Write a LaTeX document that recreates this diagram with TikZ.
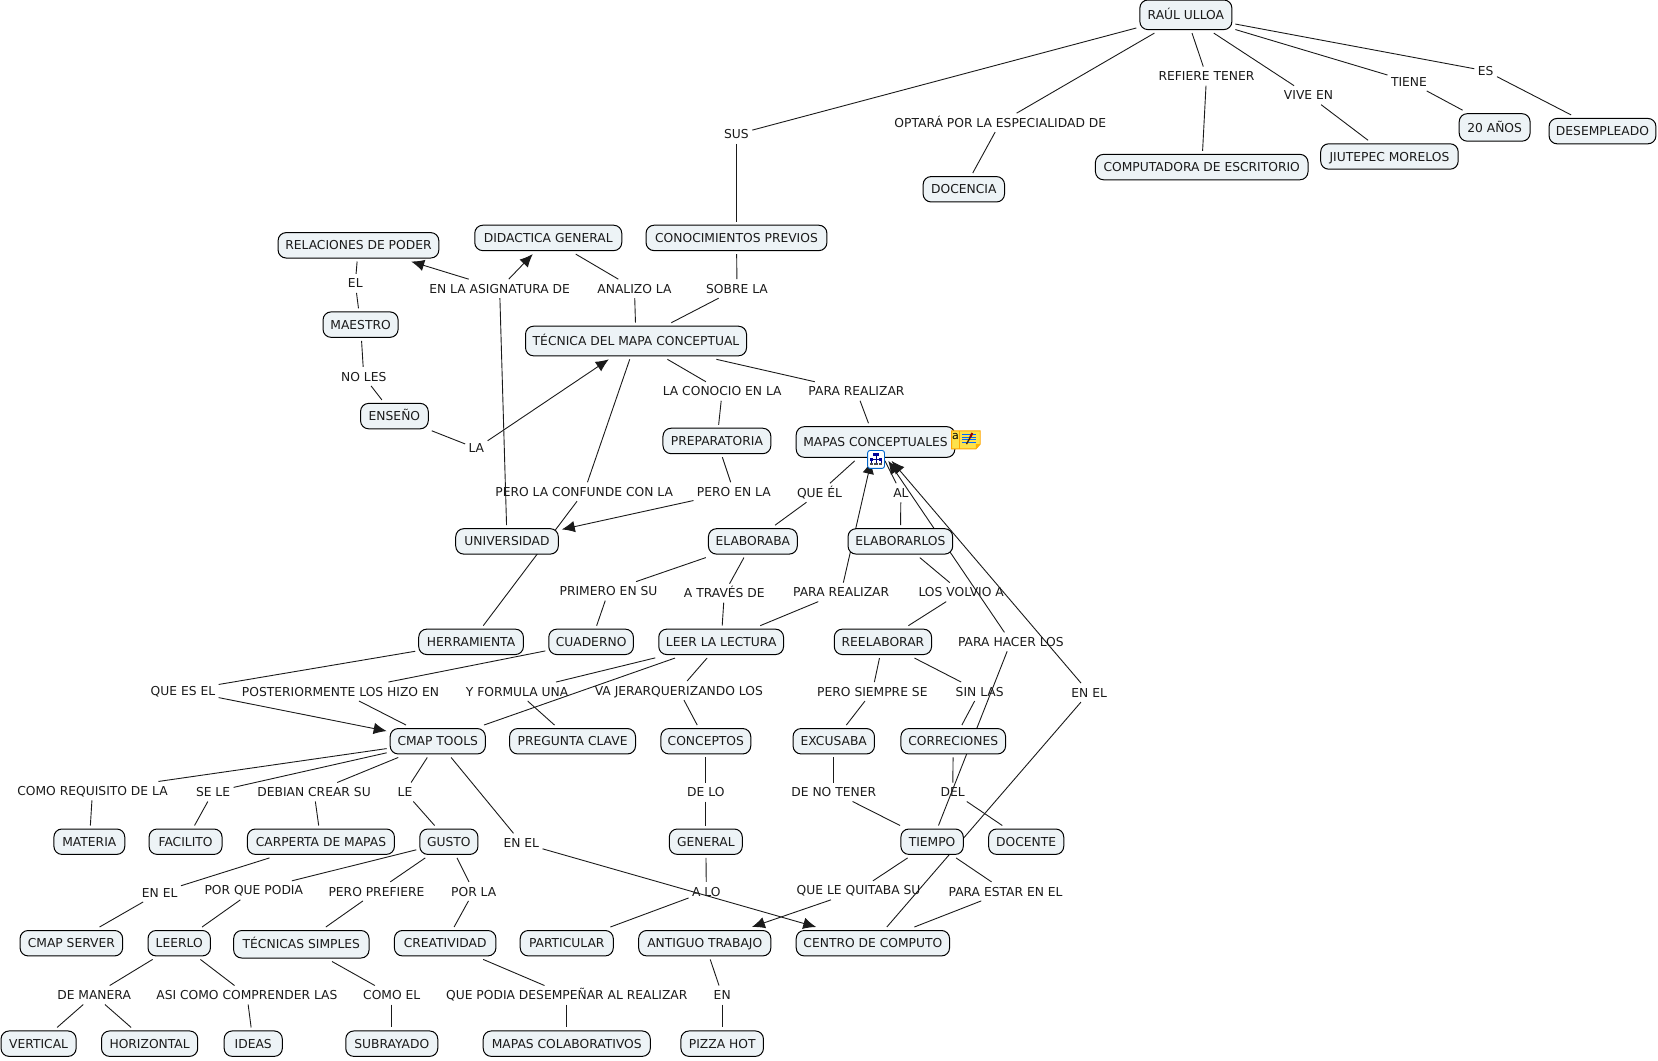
\documentclass[tikz,border=0pt]{standalone}
\usepackage{fontspec}
\setmainfont{DejaVu Sans}
\usetikzlibrary{arrows.meta,backgrounds}
\definecolor{boxfill}{HTML}{EDF3F6}
\definecolor{inkc}{HTML}{1A1A1A}
\tikzset{
 concept/.style={draw=black,line width=1pt,fill=boxfill,rounded corners=8pt,text=inkc,font=\fontsize{12.3}{14}\selectfont,inner sep=0pt,minimum height=25.4pt,outer sep=3.5pt,text height=9.2pt,text depth=0pt},
 w/.style={minimum width=#1*1.0574pt},
 h/.style={minimum height=#1*1.0574pt},
 lab/.style={text=inkc,font=\fontsize{12.3}{14}\selectfont,inner xsep=1.5pt,inner ysep=0pt,minimum height=15pt,outer sep=2pt,text height=9.2pt,text depth=0pt},
 link/.style={draw=inkc,line width=0.9pt},
 arr/.style={link,-{Latex[length=13pt,width=11.5pt]}}
}
\begin{document}
\begin{tikzpicture}[x=1.0574pt,y=-1.0574pt]
\useasboundingbox (0,0) rectangle (1568,1002.5);
% concepts
\node[concept,w=87,h=28] (raul) at (1121.5,14) {RAÚL ULLOA};
\node[concept,w=77] (docencia) at (911.5,179) {DOCENCIA};
\node[concept,w=201] (compu) at (1136.5,158) {COMPUTADORA DE ESCRITORIO};
\node[concept,w=130] (jiutepec) at (1314,148) {JIUTEPEC MORELOS};
\node[concept,w=67,h=26] (anios) at (1413.5,120.5) {20 AÑOS};
\node[concept,w=101] (desem) at (1515.5,124) {DESEMPLEADO};
\node[concept,w=152] (relac) at (339,232) {RELACIONES DE PODER};
\node[concept,w=139] (didac) at (518.5,225) {DIDACTICA GENERAL};
\node[concept,w=171] (conoc) at (696.5,225) {CONOCIMIENTOS PREVIOS};
\node[concept,w=71] (maestro) at (341,307) {MAESTRO};
\node[concept,w=209,h=28] (tecnica) at (601.5,322.5) {TÉCNICA DEL MAPA CONCEPTUAL};
\node[concept,w=64] (enseno) at (373,393.5) {ENSEÑO};
\node[concept,w=102] (prepa) at (678,417) {PREPARATORIA};
\node[concept,w=150,h=29] (mapas) at (828,418) {MAPAS CONCEPTUALES};
\node[concept,w=97] (univ) at (479.5,512) {UNIVERSIDAD};
\node[concept,w=84] (elaboraba) at (712,512) {ELABORABA};
\node[concept,w=99] (elaborarlos) at (851.5,512) {ELABORARLOS};
\node[concept,w=99] (herr) at (445.5,607) {HERRAMIENTA};
\node[concept,w=80] (cuaderno) at (559,607) {CUADERNO};
\node[concept,w=118] (leer) at (682,607) {LEER LA LECTURA};
\node[concept,w=92] (reela) at (835,607) {REELABORAR};
\node[concept,w=90] (cmap) at (414,701) {CMAP TOOLS};
\node[concept,w=119] (pregunta) at (541.5,701) {PREGUNTA CLAVE};
\node[concept,w=85] (concep) at (667.5,701) {CONCEPTOS};
\node[concept,w=77] (excusaba) at (788.5,701) {EXCUSABA};
\node[concept,w=99] (correc) at (901.5,701) {CORRECIONES};
\node[concept,w=67] (materia) at (84.5,796) {MATERIA};
\node[concept,w=69] (facilito) at (175.5,796) {FACILITO};
\node[concept,w=139] (carpeta) at (303.5,796) {CARPERTA DE MAPAS};
\node[concept,w=55] (gusto) at (424.5,796) {GUSTO};
\node[concept,w=69] (general) at (667.5,796) {GENERAL};
\node[concept,w=59] (tiempo) at (881.5,796) {TIEMPO};
\node[concept,w=71] (docente) at (970.5,796) {DOCENTE};
\node[concept,w=97] (server) at (67.5,892) {CMAP SERVER};
\node[concept,w=59] (leerlo) at (169.5,892) {LEERLO};
\node[concept,w=128,h=26] (tsimples) at (285,893) {TÉCNICAS SIMPLES};
\node[concept,w=96] (creat) at (421,892) {CREATIVIDAD};
\node[concept,w=88] (partic) at (536,892) {PARTICULAR};
\node[concept,w=125] (antiguo) at (666.5,892) {ANTIGUO TRABAJO};
\node[concept,w=145] (centro) at (825.5,892) {CENTRO DE COMPUTO};
\node[concept,w=71] (vertical) at (36.5,987) {VERTICAL};
\node[concept,w=91] (horiz) at (141.5,987) {HORIZONTAL};
\node[concept,w=55] (ideas) at (239.5,987) {IDEAS};
\node[concept,w=87] (subr) at (370.5,987) {SUBRAYADO};
\node[concept,w=158] (colab) at (536,987) {MAPAS COLABORATIVOS};
\node[concept,w=78] (pizza) at (683,987) {PIZZA HOT};
% labels
\node[lab] (lsus) at (696.5,127) {SUS};
\node[lab] (lopt) at (946,116) {OPTARÁ POR LA ESPECIALIDAD DE};
\node[lab] (lref) at (1141,72) {REFIERE TENER};
\node[lab] (lvive) at (1237.5,90) {VIVE EN};
\node[lab] (ltiene) at (1332.5,77) {TIENE};
\node[lab] (les) at (1405,67) {ES};
\node[lab] (lasig) at (472.5,273) {EN LA ASIGNATURA DE};
\node[lab] (lanal) at (600,273) {ANALIZO LA};
\node[lab] (lsobre) at (697,273) {SOBRE LA};
\node[lab] (lel) at (336,268) {EL};
\node[lab] (lnoles) at (344,356) {NO LES};
\node[lab] (lconocio) at (683,370) {LA CONOCIO EN LA};
\node[lab] (lpara) at (810,370) {PARA REALIZAR};
\node[lab] (lla) at (450.5,424) {LA};
\node[lab] (lconf) at (552.5,465) {PERO LA CONFUNDE CON LA};
\node[lab] (lperoen) at (694,465) {PERO EN LA};
\node[lab] (lqueel) at (775,466) {QUE ÉL};
\node[lab] (lal) at (852,466) {AL};
\node[lab] (lprim) at (575.5,559) {PRIMERO EN SU};
\node[lab] (latrav) at (685,561) {A TRAVÉS DE};
\node[lab] (lpara2) at (795.5,560) {PARA REALIZAR};
\node[lab] (lvolv) at (909,560) {LOS VOLVIO A};
\node[lab] (lhacer) at (956,607) {PARA HACER LOS};
\node[lab] (lquees) at (173,653) {QUE ES EL};
\node[lab] (lposter) at (322,654) {POSTERIORMENTE LOS HIZO EN};
\node[lab] (lformula) at (489,654) {Y FORMULA UNA};
\node[lab] (ljerar) at (642,653) {VA JERARQUERIZANDO LOS};
\node[lab] (lsiempre) at (825,654) {PERO SIEMPRE SE};
\node[lab] (lsin) at (926.5,654) {SIN LAS};
\node[lab] (lenel) at (1030,655) {EN EL};
\node[lab] (lreq) at (87.5,748) {COMO REQUISITO DE LA};
\node[lab] (lsele) at (201.5,749) {SE LE};
\node[lab] (ldebian) at (297,749) {DEBIAN CREAR SU};
\node[lab] (lle) at (383,749) {LE};
\node[lab] (lenel2) at (493,797) {EN EL};
\node[lab] (ldelo) at (667.5,749) {DE LO};
\node[lab] (ldeno) at (788.5,749) {DE NO TENER};
\node[lab] (ldel) at (901,749) {DEL};
\node[lab] (lenel3) at (151,844) {EN EL};
\node[lab] (lporque) at (240,842) {POR QUE PODIA};
\node[lab] (lprefiere) at (356,843) {PERO PREFIERE};
\node[lab] (lporla) at (448,843) {POR LA};
\node[lab] (lalo) at (668,843) {A LO};
\node[lab] (lquitaba) at (812,842) {QUE LE QUITABA SU};
\node[lab] (lestar) at (951,843) {PARA ESTAR EN EL};
\node[lab] (lmanera) at (89,941) {DE MANERA};
\node[lab] (lasi) at (233.5,941) {ASI COMO COMPRENDER LAS};
\node[lab] (lcomo) at (370.5,941) {COMO EL};
\node[lab] (ldesem) at (536,941) {QUE PODIA DESEMPEÑAR AL REALIZAR};
\node[lab] (len) at (683,941) {EN};
% connectors
\begin{pgfonlayer}{background}
\draw[link] (raul)--(lsus); \draw[link] (lsus)--(conoc);
\draw[link] (raul)--(lopt); \draw[link] (lopt)--(docencia);
\draw[link] (raul)--(lref); \draw[link] (lref)--(compu);
\draw[link] (raul)--(lvive); \draw[link] (lvive)--(jiutepec);
\draw[link] (raul)--(ltiene); \draw[link] (ltiene)--(anios);
\draw[link] (raul)--(les); \draw[link] (les)--(desem);
\draw[link] (conoc)--(lsobre); \draw[link] (lsobre)--(tecnica);
\draw[link] (didac)--(lanal); \draw[link] (lanal)--(tecnica);
\draw[link] (relac)--(lel); \draw[link] (lel)--(maestro);
\draw[link] (maestro)--(lnoles); \draw[link] (lnoles)--(enseno);
\draw[link] (enseno)--(lla); \draw[arr] (lla)--(tecnica);
\draw[link] (univ)--(lasig); \draw[arr] (lasig)--(relac); \draw[arr] (lasig)--(didac);
\draw[link] (tecnica)--(lconocio); \draw[link] (lconocio)--(prepa);
\draw[link] (prepa)--(lperoen); \draw[arr] (lperoen)--(univ);
\draw[link] (tecnica)--(lconf); \draw[link] (lconf)--(herr);
\draw[link] (tecnica)--(lpara); \draw[link] (lpara)--(mapas);
\draw[link] (mapas)--(lqueel); \draw[link] (lqueel)--(elaboraba);
\draw[link] (mapas)--(lal); \draw[link] (lal)--(elaborarlos);
\draw[link] (elaboraba)--(lprim); \draw[link] (lprim)--(cuaderno);
\draw[link] (elaboraba)--(latrav); \draw[link] (latrav)--(leer);
\draw[link] (leer)--(lpara2); \draw[arr] (lpara2)--(mapas);
\draw[link] (elaborarlos)--(lvolv); \draw[link] (lvolv)--(reela);
\draw[link] (reela)--(lsiempre); \draw[link] (lsiempre)--(excusaba);
\draw[link] (reela)--(lsin); \draw[link] (lsin)--(correc);
\draw[link] (tiempo)--(lhacer); \draw[arr] (lhacer)--(mapas);
\draw[link] (centro)--(lenel); \draw[arr] (lenel)--(mapas);
\draw[link] (herr)--(lquees); \draw[arr] (lquees)--(cmap);
\draw[link] (cuaderno)--(lposter); \draw[link] (lposter)--(cmap);
\draw[link] (leer)--(lformula); \draw[link] (lformula)--(pregunta);
\draw[link] (leer)--(cmap);
\draw[link] (leer)--(ljerar); \draw[link] (ljerar)--(concep);
\draw[link] (concep)--(ldelo); \draw[link] (ldelo)--(general);
\draw[link] (general)--(lalo); \draw[link] (lalo)--(partic);
\draw[link] (excusaba)--(ldeno); \draw[link] (ldeno)--(tiempo);
\draw[link] (correc)--(ldel); \draw[link] (ldel)--(docente);
\draw[link] (tiempo)--(lquitaba); \draw[arr] (lquitaba)--(antiguo);
\draw[link] (tiempo)--(lestar); \draw[link] (lestar)--(centro);
\draw[link] (cmap)--(lreq); \draw[link] (lreq)--(materia);
\draw[link] (cmap)--(lsele); \draw[link] (lsele)--(facilito);
\draw[link] (cmap)--(ldebian); \draw[link] (ldebian)--(carpeta);
\draw[link] (cmap)--(lle); \draw[link] (lle)--(gusto);
\draw[link] (cmap)--(lenel2); \draw[arr] (lenel2)--(centro);
\draw[link] (carpeta)--(lenel3); \draw[link] (lenel3)--(server);
\draw[link] (gusto)--(lporque); \draw[link] (lporque)--(leerlo);
\draw[link] (gusto)--(lprefiere); \draw[link] (lprefiere)--(tsimples);
\draw[link] (gusto)--(lporla); \draw[link] (lporla)--(creat);
\draw[link] (leerlo)--(lmanera); \draw[link] (lmanera)--(vertical); \draw[link] (lmanera)--(horiz);
\draw[link] (leerlo)--(lasi); \draw[link] (lasi)--(ideas);
\draw[link] (tsimples)--(lcomo); \draw[link] (lcomo)--(subr);
\draw[link] (creat)--(ldesem); \draw[link] (ldesem)--(colab);
\draw[link] (antiguo)--(len); \draw[link] (len)--(pizza);
\end{pgfonlayer}
% icons on MAPAS CONCEPTUALES
\fill[rounded corners=2.5pt,fill=white,draw=blue!50!cyan!80!black,line width=0.9pt] (820.5,426) rectangle (836.5,443);
\draw[draw=blue!50!black,line width=0.6pt] (828.5,431)--(828.5,438) (824,438)--(824,434.5)--(833,434.5)--(833,438);
\fill[blue!60!black] (826,428.5) rectangle (831,431);
\fill[blue!60!black] (822.5,433.5) rectangle (825.5,435.5);
\fill[blue!60!black] (831.5,433.5) rectangle (834.5,435.5);
\fill[black!70] (822.5,438) rectangle (825.5,440);
\fill[black!70] (827,438) rectangle (830,440);
\fill[black!70] (831.5,438) rectangle (834.5,440);
\fill[fill=yellow!75!orange!70,draw=orange!70!yellow,line width=0.9pt] (900,407.5)--(927,407.5)--(927,420)--(923,424.5)--(900,424.5)--cycle;
\fill[orange!60!yellow] (927,420)--(923,420)--(923,424.5)--cycle;
\draw[orange!70!yellow,line width=0.6pt] (907.5,407.5)--(907.5,424.5);
\node[inner sep=0pt,text=black,font=\fontsize{11}{11}\selectfont] (noteA) at (903.7,412.5) {a};
\foreach \yy in {411,413.5,416,418.5} \draw[blue!60!cyan,line width=0.9pt] (910,\yy)--(923,\yy);
\draw[black!70!orange,line width=1.4pt] (914,420)--(919,411);
\draw[red!60!black,line width=2pt] (917.5,413.5)--(919.5,409.5);
\end{tikzpicture}
\end{document}
